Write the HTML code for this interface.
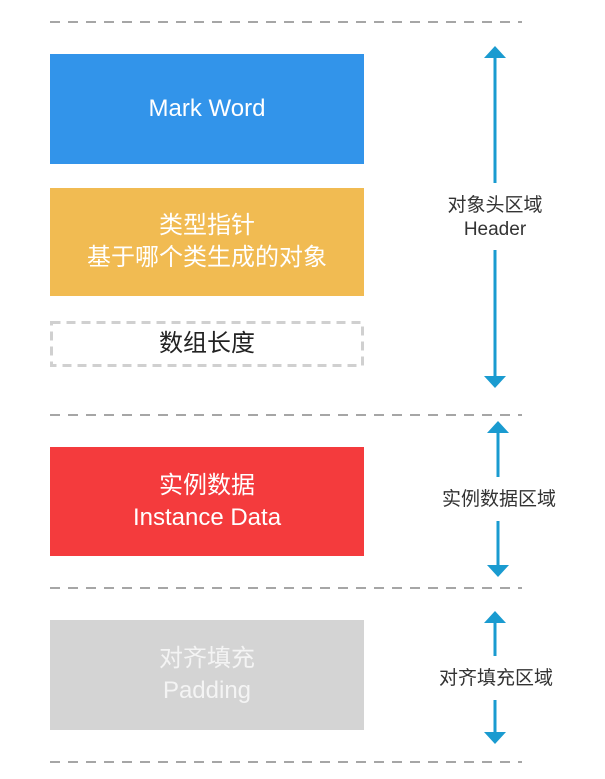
<!DOCTYPE html>
<html><head><meta charset="utf-8"><style>
body{margin:0;width:605px;height:779px;background:#fff;overflow:hidden;position:relative;font-family:"Liberation Sans","Noto Sans CJK SC",sans-serif}
.box{position:absolute;left:50px;width:314px;display:flex;flex-direction:column;align-items:center;justify-content:center;color:#fff;font-size:24px;line-height:32px;text-align:center;white-space:nowrap}
.lbl{position:absolute;color:#333;font-size:19px;line-height:24px;text-align:center;width:160px}
</style></head><body>
<svg width="605" height="779" style="position:absolute;left:0;top:0">
<g stroke="#a6a6a6" stroke-width="2" stroke-dasharray="10,8">
<line x1="50" y1="22" x2="522" y2="22"/>
<line x1="50" y1="415" x2="522" y2="415"/>
<line x1="50" y1="588" x2="522" y2="588"/>
<line x1="50" y1="762" x2="522" y2="762"/>
</g>
<rect x="51.5" y="322.5" width="311" height="43" fill="none" stroke="#d0d0d0" stroke-width="3" stroke-dasharray="9,6"/>
<g stroke="#1a9bd0" stroke-width="3" fill="#1a9bd0">
<line x1="495" y1="55" x2="495" y2="183"/><polygon stroke="none" points="484,58 506,58 495,46"/>
<line x1="495" y1="250" x2="495" y2="378"/><polygon stroke="none" points="484,376 506,376 495,388"/>
<line x1="498" y1="430" x2="498" y2="477"/><polygon stroke="none" points="487,433 509,433 498,421"/>
<line x1="498" y1="521" x2="498" y2="568"/><polygon stroke="none" points="487,565 509,565 498,577"/>
<line x1="495" y1="620" x2="495" y2="656"/><polygon stroke="none" points="484,623 506,623 495,611"/>
<line x1="495" y1="700" x2="495" y2="735"/><polygon stroke="none" points="484,732 506,732 495,744"/>
</g>
</svg>
<div class="box" style="top:54px;height:110px;background:#3294ea">Mark Word</div>
<div class="box" style="top:188px;height:108px;background:#f1bb52"><div>类型指针</div><div>基于哪个类生成的对象</div></div>
<div class="box" style="top:322px;height:44px;color:#222">数组长度</div>
<div class="box" style="top:447px;height:109px;background:#f43b3d"><div>实例数据</div><div>Instance Data</div></div>
<div class="box" style="top:620px;height:110px;background:#d4d4d4;color:#f4f4f4"><div>对齐填充</div><div>Padding</div></div>
<div class="lbl" style="left:415px;top:194px">对象头区域<br>Header</div>
<div class="lbl" style="left:419px;top:488px">实例数据区域</div>
<div class="lbl" style="left:416px;top:667px">对齐填充区域</div>
</body></html>
